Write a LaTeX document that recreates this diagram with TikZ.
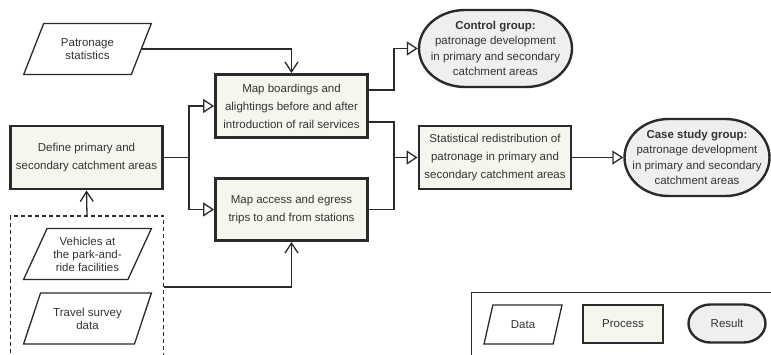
\documentclass[tikz,border=0pt]{standalone}
\usepackage{fontspec}
\setmainfont{Liberation Sans}
\usetikzlibrary{shapes.geometric,arrows.meta,backgrounds}
\definecolor{ink}{HTML}{2A2A2A}
\definecolor{txt}{HTML}{333333}
\definecolor{procfill}{HTML}{F7F6EE}
\definecolor{resfill}{HTML}{EEF0F0}
% capsule outline with elliptical ends behind a result node: name, x radius, y radius
\newcommand\capsule[3]{%
  \begin{pgfonlayer}{background}
  \draw[draw=ink, fill=resfill, line width=2.4pt]
    ([xshift=#2]#1.north west) -- ([xshift=-#2]#1.north east)
    arc[start angle=90, end angle=-90, x radius=#2, y radius=#3]
    -- ([xshift=#2]#1.south west)
    arc[start angle=270, end angle=90, x radius=#2, y radius=#3] -- cycle;
  \end{pgfonlayer}}
\begin{document}
\begin{tikzpicture}[x=1pt,y=-1pt,
  every node/.style={align=center, text=txt, font=\fontsize{11.5}{18}\selectfont},
  process/.style={draw=ink, fill=procfill, line width=2.8pt, minimum width=152pt, inner sep=0pt},
  datum/.style={draw=ink, line width=1.3pt, trapezium, trapezium left angle=60, trapezium right angle=120,
    trapezium stretches=true, minimum width=128pt, minimum height=51pt, inner sep=0pt,
    font=\fontsize{11.5}{13}\selectfont},
  result/.style={minimum width=153pt, minimum height=77pt, inner sep=0pt, outer sep=0pt,
    font=\fontsize{11.5}{15.3}\selectfont},
  flow/.style={draw=ink, line width=1.3pt},
  opentip/.style={flow, -{Triangle[open, length=11pt, width=14pt]}},
  bartip/.style={flow, -{Straight Barb[length=10pt, width=13pt]}},
]
\useasboundingbox (0,0) rectangle (771,355);
\clip (0,0) rectangle (771,355);

% data sources
\node[datum] (pat) at (87.5,49) {Patronage\\statistics};
\node[draw=ink, line width=1.2pt, dash pattern=on 4pt off 3pt, minimum width=153pt, minimum height=170pt,
  inner sep=0pt] (src) at (87,301) {};
\node[datum] (veh) at (87.5,254) {Vehicles at\\the park-and-\\ride facilities};
\node[datum] (trav) at (87.5,318.5) {Travel survey\\data};

% processes
\node[process, minimum height=63pt] (define) at (86.5,157.5) {Define primary and\\secondary catchment areas};
\node[process, minimum height=63pt] (mapb) at (291.5,106) {Map boardings and\\alightings before and after\\introduction of rail services};
\node[process, minimum height=62pt] (mapa) at (291.5,209.5) {Map access and egress\\trips to and from stations};
\node[process, minimum height=63pt] (stat) at (495,157.5) {Statistical redistribution of\\patronage in primary and\\secondary catchment areas};

% results
\node[result] (ctrl) at (495.5,48.5) {\textbf{Control group:}\\patronage development\\in primary and secondary\\catchment areas};
\capsule{ctrl}{46pt}{38.5pt}
\node[result, minimum width=145pt] (case) at (697,157.5) {\textbf{Case study group:}\\patronage development\\in primary and secondary\\catchment areas};
\capsule{case}{44pt}{38.5pt}

% connectors
\draw[bartip] (pat.east) -| (mapb.north);
\coordinate (fork) at ([xshift=25pt]define.east);
\draw[flow] (define.east) -- (fork);
\draw[opentip] (fork) |- (mapb.west);
\draw[opentip] (fork) |- (mapa.west);
\draw[bartip] (src.north) -- (define.south);
\draw[bartip] ([yshift=14pt]src.east) -| (mapa.south);
\draw[opentip] ([yshift=16pt]mapb.east) -- ++(25,0) |- ([xshift=-1.2pt]ctrl.west);
\draw[flow] ([yshift=-16pt]mapb.east) -- ++(25,0) |- (mapa.east);
\coordinate (merge) at ([xshift=25pt]mapa.east |- stat.west);
\draw[opentip] (merge) -- (stat.west);
\draw[opentip] (stat.east) -- ([xshift=-1.2pt]case.west);

% legend
\node[draw=ink, line width=1pt, minimum width=400pt, minimum height=120pt, inner sep=0pt] (legend) at (671,353) {};
\node[datum, minimum width=78pt, minimum height=39pt, trapezium left angle=66, trapezium right angle=114] (ldata) at (523,324.5) {Data};
\node[process, minimum width=80pt, minimum height=38pt] (lproc) at (623,324) {Process};
\node[result, minimum width=77pt, minimum height=38pt] (lres) at (727,323.5) {Result};
\capsule{lres}{22pt}{19pt}
\end{tikzpicture}
\end{document}
